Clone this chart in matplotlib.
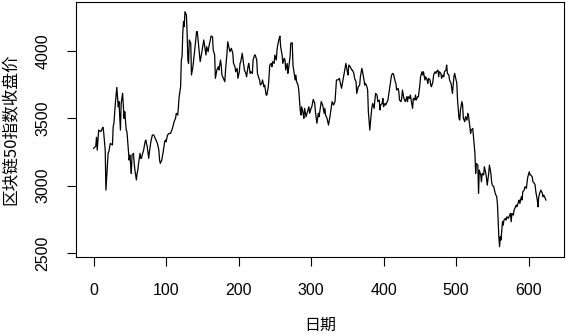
import matplotlib
matplotlib.use("Agg")
import matplotlib.pyplot as plt

# trading day index and closing price of the blockchain 50 index
days = [
    0, 3, 4, 5, 7, 10, 12, 13, 14, 16,
    17, 20, 21, 23, 26, 27, 28, 30, 32, 34,
    35, 37, 38, 40, 42, 43, 45, 46, 49, 50,
    51, 52, 53, 55, 56, 57, 58, 59, 60, 61,
    62, 64, 65, 66, 67, 69, 71, 72, 74, 76,
    77, 79, 81, 83, 85, 88, 90, 91, 92, 94,
    96, 98, 99, 100, 102, 104, 106, 108, 110, 111,
    113, 114, 116, 117, 118, 120, 121, 122, 123, 124,
    125, 126, 128, 129, 130, 131, 132, 134, 135, 137,
    139, 142, 143, 145,
    147, 149, 152, 153, 155, 156, 158, 159, 161, 162,
    164, 165, 167, 168, 170, 172, 173, 175, 176, 177,
    179, 181, 182, 184, 185, 187, 188, 190, 192, 193,
    195, 196, 198, 199, 201, 202, 203, 205, 207, 208,
    210, 211, 213, 214, 216, 217, 219, 220, 222, 223,
    225, 226, 228, 229, 230, 232, 233, 235, 236, 238,
    239, 241, 242, 243, 245, 246, 247, 249, 250, 252,
    253, 254, 256, 257, 258, 260, 261, 263, 264, 265,
    267, 268, 269, 271, 272, 274, 275, 276, 278, 279,
    280, 282, 283, 285, 286, 287, 289, 290, 291, 293,
    295, 297,
    298, 300, 301, 303, 305, 306, 308, 310, 311, 313,
    314, 316, 318, 319, 320, 322, 324, 326, 328, 329,
    331, 333, 335, 337, 339, 340, 342, 344, 346, 348,
    350, 351, 352, 354, 356, 357, 359, 360, 362, 363,
    365, 367, 368, 370, 371, 373, 374, 375, 377, 378,
    379, 381, 383, 384, 385, 387, 388, 389, 391, 392,
    394, 395, 396, 398, 399, 400, 402, 403, 405, 406,
    407, 409, 411, 413, 414, 416, 417, 418, 420, 421,
    422, 424, 425, 426, 428, 429, 430, 432, 433, 434,
    436, 437, 438, 440, 441, 443, 444, 445, 447, 448,
    450,
    451, 453, 454, 455, 457, 458, 460, 461, 462, 464,
    465, 466, 468, 469, 471, 472, 473, 475, 476, 477,
    479, 480, 482, 483, 484, 486, 487, 488, 490, 491,
    493, 494, 495, 497, 498, 499, 501, 502, 504, 505,
    506, 508, 509, 510, 512, 513, 515, 516, 517, 519,
    520, 521, 523, 524, 526, 527, 528, 530, 531, 532,
    534, 535, 536, 538, 539, 541, 542, 543, 545, 546,
    548, 549, 550, 552, 553, 554, 556, 557, 558, 559,
    560, 561, 562, 564, 565, 566, 568, 569, 570, 572,
    573, 575, 576, 577, 579, 580, 581, 583, 584, 586,
    587, 588, 590, 591, 592, 594, 595, 597, 598, 599,
    601, 602, 603, 605, 606, 608, 609, 610, 612, 613,
    614, 616, 617, 619, 620, 621, 623, 624,
]
close = [
    3277, 3294, 3359, 3264, 3413, 3401, 3425, 3433, 3388, 3264,
    2967, 3240, 3252, 3314, 3302, 3438, 3463, 3611, 3730, 3586,
    3624, 3413, 3611, 3686, 3500, 3549, 3413, 3401, 3190, 3227,
    3165, 3091, 3227, 3240, 3165, 3116, 3079, 3042, 3091, 3116,
    3165, 3240, 3203, 3203, 3227, 3264, 3326, 3339, 3289, 3203,
    3252, 3326, 3376, 3376, 3351, 3314, 3264, 3190, 3165, 3190,
    3252, 3326, 3339, 3326, 3376, 3388, 3388, 3413, 3450, 3475,
    3500, 3537, 3524, 3586, 3661, 3735, 3933, 3958, 4131, 4218,
    4181, 4292, 4267, 4131, 3933, 3908, 4082, 4057, 3822, 3884,
    3983, 4144, 4144, 4032,
    3921, 3983, 4082, 4045, 3970, 4032, 3995, 4032, 4082, 4111,
    4106, 4007, 3970, 3797, 3859, 3884, 3859, 3933, 3896, 3822,
    3797, 3772, 3859, 3983, 4069, 4020, 3995, 4020, 3983, 3908,
    3884, 3846, 3871, 3797, 3846, 3908, 3921, 3983, 3896, 3859,
    3834, 3809, 3884, 3908, 3834, 3846, 3834, 3933, 3970, 3970,
    3933, 3834, 3797, 3785, 3747, 3760, 3785, 3735, 3747, 3673,
    3673, 3735, 3809, 3896, 3908, 3884, 3921, 3908, 3970, 3933,
    4007, 4045, 4094, 4111, 4032, 3970, 3908, 3946, 3933, 3859,
    3908, 3834, 3871, 3958, 4057, 4062, 3896, 3859, 3785, 3822,
    3772, 3747, 3710, 3562, 3524, 3586, 3537, 3500, 3574, 3512,
    3549, 3586,
    3537, 3574, 3586, 3641, 3611, 3549, 3463, 3537, 3512, 3586,
    3624, 3599, 3537, 3574, 3524, 3500, 3450, 3512, 3586, 3624,
    3599, 3624, 3785, 3785, 3797, 3772, 3723, 3785, 3846, 3908,
    3846, 3822, 3896, 3884, 3859, 3859, 3834, 3797, 3772, 3685,
    3735, 3747, 3809, 3871, 3846, 3785, 3747, 3760, 3735, 3710,
    3549, 3413, 3537, 3586, 3611, 3574, 3636, 3685, 3673, 3624,
    3636, 3562, 3599, 3611, 3648, 3586, 3611, 3599, 3624, 3636,
    3673, 3747, 3822, 3834, 3822, 3772, 3760, 3710, 3723, 3698,
    3636, 3624, 3648, 3710, 3648, 3636, 3624, 3661, 3624, 3661,
    3648, 3673, 3636, 3574, 3648, 3636, 3673, 3636, 3661, 3661,
    3747,
    3809, 3846, 3822, 3846, 3785, 3809, 3785, 3760, 3797, 3785,
    3747, 3735, 3772, 3822, 3846, 3834, 3846, 3859, 3809, 3846,
    3834, 3797, 3822, 3809, 3846, 3859, 3896, 3834, 3822, 3785,
    3760, 3723, 3685, 3809, 3834, 3809, 3760, 3636, 3500, 3487,
    3562, 3624, 3599, 3500, 3475, 3512, 3487, 3537, 3524, 3438,
    3388, 3413, 3425, 3364, 3240, 3091, 3165, 3153, 2942, 3116,
    3079, 3029, 3091, 3079, 3141, 3091, 3054, 3004, 3091, 3153,
    3091, 3029, 3004, 2992, 2967, 2942, 2918, 2868, 2744, 2620,
    2546, 2620, 2596, 2732, 2707, 2744, 2757, 2744, 2769, 2757,
    2769, 2794, 2732, 2794, 2781, 2819, 2831, 2856, 2843, 2880,
    2893, 2868, 2918, 2893, 2955, 2967, 2992, 2980, 3029, 3066,
    3103, 3079, 3079, 3066, 3029, 3017, 3004, 2955, 2893, 2843,
    2918, 2955, 2967, 2942, 2918, 2930, 2905, 2893,
]
xticks = [0, 100, 200, 300, 400, 500, 600]
yticks = [2500, 3000, 3500, 4000]

plt.rcParams["font.family"] = ["Liberation Sans", "DejaVu Sans"]
cjk = ["Noto Sans CJK SC", "DejaVu Sans"]

fig = plt.figure(figsize=(5.66, 3.34), dpi=100)
ax = fig.add_axes([0.134, 0.2305, 0.862, 0.7635])

ax.plot(days, close, color="black", linewidth=0.9)

ax.set_xlim(-24.5, 648.5)
ax.set_ylim(2470, 4364)
ax.set_xticks(xticks)
ax.set_yticks(yticks)
ax.set_xticklabels([str(t) for t in xticks])
ax.set_yticklabels([str(t) for t in yticks], rotation=90, va="center")

for s in ax.spines.values():
    s.set_linewidth(0.8)
ax.tick_params(axis="both", direction="out", length=6.5, width=0.8, labelsize=11.5)
ax.tick_params(axis="x", pad=12)
ax.tick_params(axis="y", pad=12)

ax.set_xlabel("日期", family=cjk, fontsize=11.5, va="center", ha="center")
ax.set_ylabel("区块链50指数收盘价", family=cjk, fontsize=12, va="center", ha="center")
ax.xaxis.set_label_coords(0.5, -0.267)
ax.yaxis.set_label_coords(-0.1325, 0.5)

fig.savefig("out.png", dpi=100)
plt.close(fig)
